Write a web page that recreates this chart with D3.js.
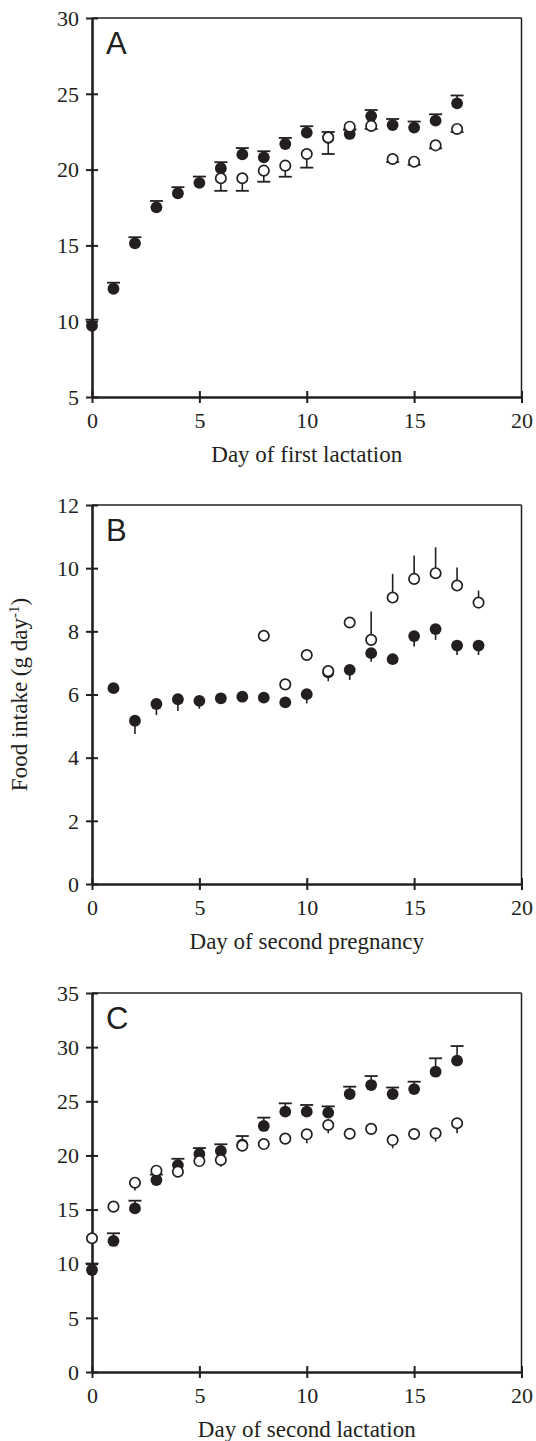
<!DOCTYPE html>
<html>
<head>
<meta charset="utf-8">
<script src="https://cdn.jsdelivr.net/npm/d3@7"></script>
<style>
  html, body { margin: 0; padding: 0; background: #fff; }
  svg { display: block; }
</style>
</head>
<body>
<svg id="fig" width="536" height="1441"></svg>
<script>
// ---- Panel A: first lactation (g/day) ----
const daysA      = [0,1,2,3,4,5,6,7,8,9,10,11,12,13,14,15,16,17];
const filledA    = [9.70,12.14,15.14,17.51,18.44,19.12,20.09,21.00,20.81,21.69,22.44,22.10,22.35,23.53,22.94,22.77,23.23,24.37];
const filledErrA = [0.40,0.40,0.40,0.42,0.40,0.42,0.40,0.42,0.40,0.40,0.42,0.38,0.30,0.40,0.40,0.40,0.42,0.52];
const openDaysA  = [6,7,8,9,10,11,12,13,14,15,16,17];
const openA      = [19.43,19.43,19.93,20.26,21.03,22.12,22.83,22.88,20.70,20.52,21.60,22.68];
const openErrA   = [0.83,0.83,0.73,0.73,0.90,1.09,0.20,0.20,0.20,0.20,0.20,0.20];

// ---- Panel B: second pregnancy ----
const daysB      = [1,2,3,4,5,6,7,8,9,10,11,12,13,14,15,16,17,18];
const filledB    = [6.20,5.17,5.70,5.85,5.80,5.88,5.93,5.90,5.75,6.01,6.70,6.78,7.31,7.12,7.85,8.07,7.55,7.55];
const filledErrB = [0.10,0.42,0.35,0.37,0.25,0.10,0.10,0.10,0.10,0.29,0.28,0.32,0.27,0.10,0.33,0.34,0.30,0.30];
const openDaysB  = [8,9,10,11,12,13,14,15,16,17,18];
const openB      = [7.86,6.32,7.25,6.74,8.28,7.73,9.07,9.66,9.84,9.45,8.91];
const openErrB   = [0.10,0.10,0.10,0.10,0.10,0.90,0.75,0.74,0.82,0.57,0.38];

// ---- Panel C: second lactation ----
const daysC      = [0,1,2,3,4,5,6,7,8,9,10,11,12,13,14,15,16,17];
const filledC    = [9.42,12.10,15.11,17.73,19.11,20.13,20.41,21.00,22.72,24.04,24.04,23.95,25.67,26.50,25.67,26.13,27.73,28.75];
const filledErrC = [0.60,0.71,0.71,0.50,0.58,0.55,0.62,0.79,0.77,0.77,0.62,0.58,0.68,0.83,0.60,0.68,1.24,1.35];
const openDaysC  = [0,1,2,3,4,5,6,7,8,9,10,11,12,13,14,15,16,17];
const openC      = [12.35,15.27,17.48,18.59,18.50,19.48,19.58,20.90,21.05,21.55,21.95,22.81,22.00,22.45,21.42,21.98,22.04,22.97];
const openErrC   = [0.30,0.30,0.73,0.30,0.52,0.46,0.62,0.40,0.30,0.30,0.83,0.77,0.30,0.50,0.76,0.56,0.77,0.93];

// ---- Axis ticks and labels ----
const xTicks  = [0,5,10,15,20];
const yTicksA = [5,10,15,20,25,30];
const yTicksB = [0,2,4,6,8,10,12];
const yTicksC = [0,5,10,15,20,25,30,35];
const xTitles = ["Day of first lactation", "Day of second pregnancy", "Day of second lactation"];
const letters = ["A","B","C"];

const ink = "#231f20";
const serif = "'Liberation Serif','Times New Roman',Times,serif";
const sans = "'Liberation Sans',Arial,Helvetica,sans-serif";

const svg = d3.select("#fig");
svg.append("rect").attr("width",536).attr("height",1441).attr("fill","#fff");

const left = 92, right = 521.5, plotH = 379;
const tops = [18, 505, 993];

const panels = [
  {days: daysA, f: filledA, fe: filledErrA, od: openDaysA, o: openA, oe: openErrA,
   domain: [5,30], yTicks: yTicksA, fDir: +1, oDir: -1, fCap: true, oCap: true},
  {days: daysB, f: filledB, fe: filledErrB, od: openDaysB, o: openB, oe: openErrB,
   domain: [0,12], yTicks: yTicksB, fDir: -1, oDir: +1, fCap: false, oCap: false},
  {days: daysC, f: filledC, fe: filledErrC, od: openDaysC, o: openC, oe: openErrC,
   domain: [0,35], yTicks: yTicksC, fDir: +1, oDir: -1, fCap: true, oCap: false}
];

const x = d3.scaleLinear().domain([0,20]).range([left, right]);

panels.forEach((p, i) => {
  const top = tops[i], bottom = top + plotH;
  const y = d3.scaleLinear().domain(p.domain).range([bottom, top]);
  const g = svg.append("g");

  // frame: thin top/right, heavy left/bottom
  g.append("line").attr("x1", left).attr("x2", right).attr("y1", top).attr("y2", top)
    .attr("stroke", ink).attr("stroke-width", 1.5);
  g.append("line").attr("x1", right).attr("x2", right).attr("y1", top).attr("y2", bottom)
    .attr("stroke", ink).attr("stroke-width", 1.5);

  // x axis, ticks crossing the line
  const gx = g.append("g").attr("transform", `translate(0,${bottom})`)
    .call(d3.axisBottom(x).tickValues(xTicks).tickSize(6).tickSizeOuter(0).tickFormat(d3.format("d")));
  gx.select(".domain").attr("stroke", ink).attr("stroke-width", 2.6);
  gx.selectAll(".tick line").attr("y1", -6).attr("y2", 6).attr("stroke", ink).attr("stroke-width", 2);
  gx.selectAll(".tick text").attr("y", 31).attr("dy", null)
    .attr("font-family", serif).attr("font-size", 22).attr("fill", ink);

  // y axis, ticks crossing the line
  const gy = g.append("g").attr("transform", `translate(${left},0)`)
    .call(d3.axisLeft(y).tickValues(p.yTicks).tickSize(6).tickSizeOuter(0).tickFormat(d3.format("d")));
  gy.select(".domain").attr("stroke", ink).attr("stroke-width", 2.6);
  gy.selectAll(".tick line").attr("x1", -6).attr("x2", 6).attr("stroke", ink).attr("stroke-width", 2);
  gy.selectAll(".tick text").attr("x", -13).attr("dy", "0.33em")
    .attr("font-family", serif).attr("font-size", 22).attr("fill", ink);

  // x title
  g.append("text").attr("x", (left + right) / 2).attr("y", bottom + 65)
    .attr("text-anchor", "middle").attr("font-family", serif).attr("font-size", 23)
    .attr("fill", ink).text(xTitles[i]);

  // panel letter
  g.append("text").attr("x", 106).attr("y", top + 36)
    .attr("font-family", sans).attr("font-size", 31).attr("fill", ink).text(letters[i]);

  const r = 5.9, capW = 13;

  // filled series: error bars, markers, caps
  const fData = p.days.map((d, k) => ({d, v: p.f[k], e: p.fe[k]}));
  g.append("g").selectAll("line").data(fData).join("line")
    .attr("x1", d => x(d.d)).attr("x2", d => x(d.d))
    .attr("y1", d => y(d.v)).attr("y2", d => y(d.v + p.fDir * d.e))
    .attr("stroke", ink).attr("stroke-width", 1.6);
  g.append("g").selectAll("circle").data(fData).join("circle")
    .attr("cx", d => x(d.d)).attr("cy", d => y(d.v)).attr("r", r).attr("fill", ink);
  if (p.fCap) {
    g.append("g").selectAll("line").data(fData).join("line")
      .attr("x1", d => x(d.d) - capW / 2).attr("x2", d => x(d.d) + capW / 2)
      .attr("y1", d => y(d.v + p.fDir * d.e)).attr("y2", d => y(d.v + p.fDir * d.e))
      .attr("stroke", ink).attr("stroke-width", 1.8);
  }

  // open series: error bars, caps, markers
  const oData = p.od.map((d, k) => ({d, v: p.o[k], e: p.oe[k]}));
  g.append("g").selectAll("line").data(oData).join("line")
    .attr("x1", d => x(d.d)).attr("x2", d => x(d.d))
    .attr("y1", d => y(d.v)).attr("y2", d => y(d.v + p.oDir * d.e))
    .attr("stroke", ink).attr("stroke-width", 1.6);
  if (p.oCap) {
    g.append("g").selectAll("line").data(oData).join("line")
      .attr("x1", d => x(d.d) - capW / 2).attr("x2", d => x(d.d) + capW / 2)
      .attr("y1", d => y(d.v + p.oDir * d.e)).attr("y2", d => y(d.v + p.oDir * d.e))
      .attr("stroke", ink).attr("stroke-width", 1.8);
  }
  g.append("g").selectAll("circle").data(oData).join("circle")
    .attr("cx", d => x(d.d)).attr("cy", d => y(d.v)).attr("r", 5.2)
    .attr("fill", "#fff").attr("stroke", ink).attr("stroke-width", 1.7);
});

// shared y title, centred on the middle panel
const yTitle = svg.append("text")
  .attr("transform", `translate(27,${tops[1] + plotH / 2}) rotate(-90)`)
  .attr("text-anchor", "middle").attr("font-family", serif).attr("font-size", 23).attr("fill", ink);
yTitle.append("tspan").text("Food intake (g day");
yTitle.append("tspan").attr("baseline-shift", "super").attr("font-size", 15).text("-1");
yTitle.append("tspan").text(")");
</script>
</body>
</html>
